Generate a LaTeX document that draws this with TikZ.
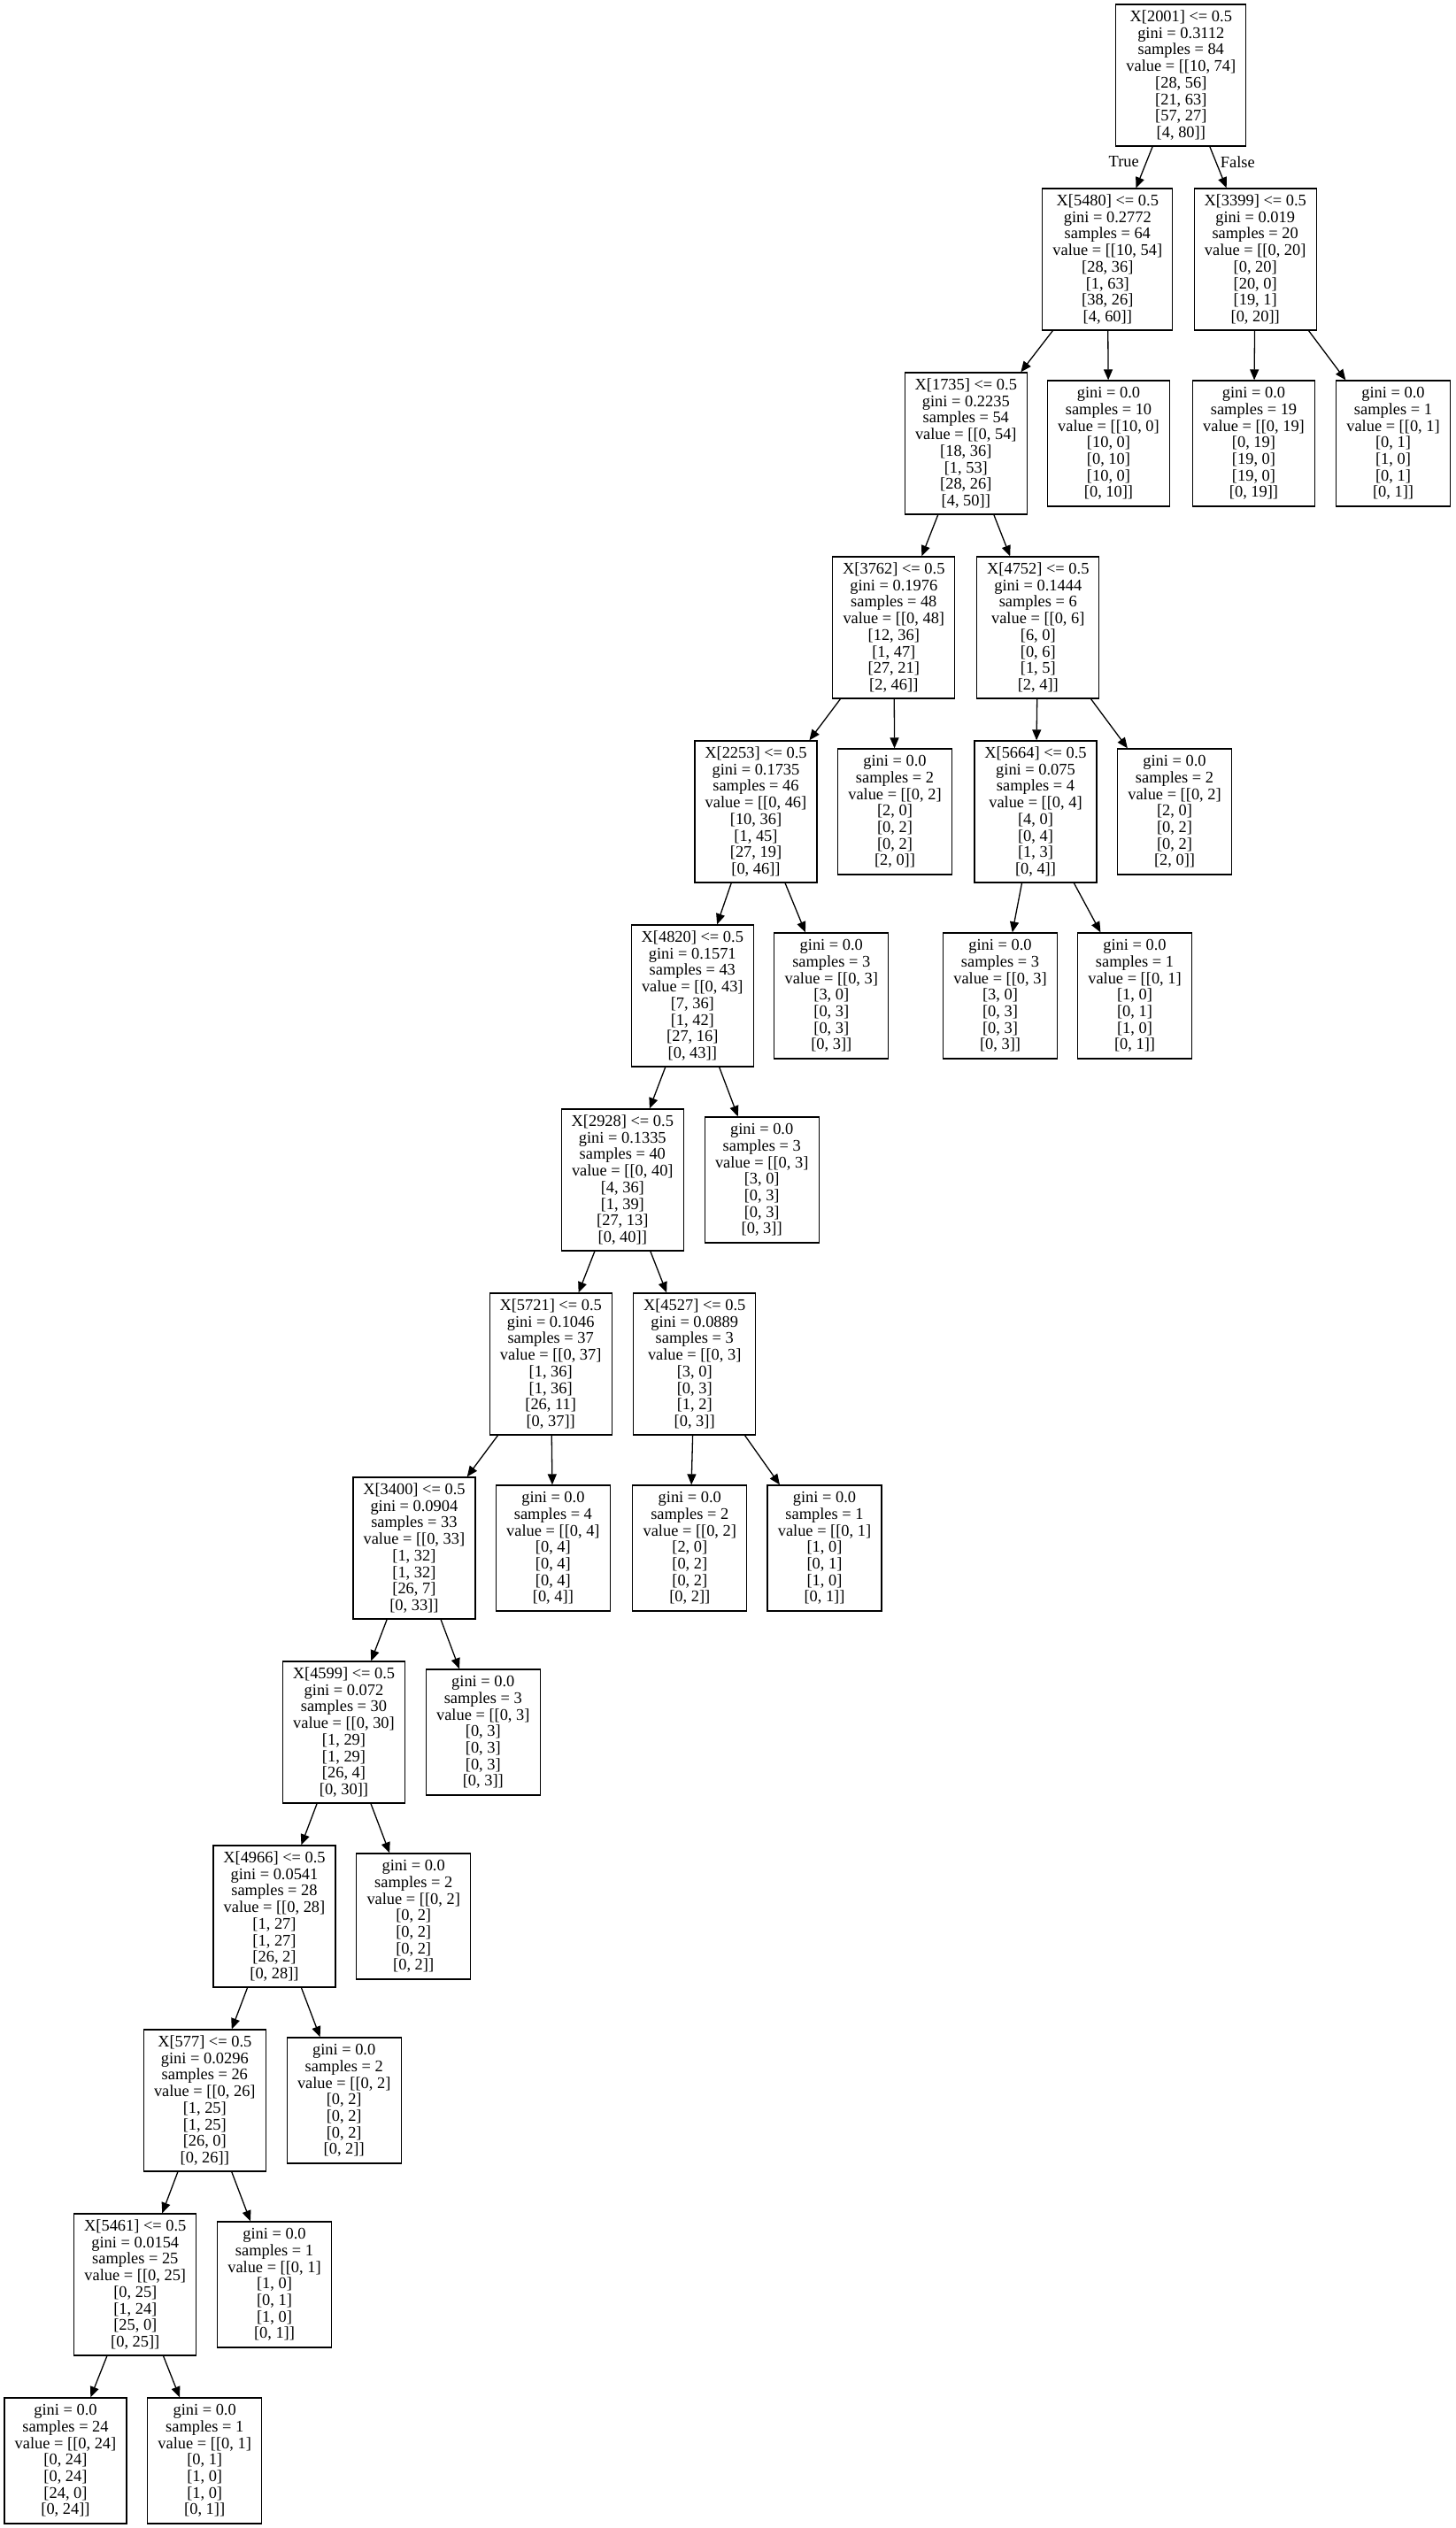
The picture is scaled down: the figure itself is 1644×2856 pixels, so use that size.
\documentclass[tikz,border=0pt]{standalone}
\usepackage{fontspec}
\setmainfont{Liberation Serif}
\usetikzlibrary{arrows.meta}
\begin{document}
\begin{tikzpicture}[x=1pt,y=-1pt,
  every node/.style={font=\fontsize{18.4}{18.7}\selectfont, inner sep=0pt},
  split/.style={draw, line width=1.3pt, rectangle, minimum height=160pt, align=center},
  leaf/.style={draw, line width=1.3pt, rectangle, minimum height=142pt, align=center},
  wa/.style={minimum width=147pt},
  wb/.style={minimum width=138pt},
  wc/.style={minimum width=129pt},
  edge/.style={line width=1.3pt, -{Triangle[length=12pt,width=10pt]}},
  lbl/.style={}]
\useasboundingbox (0,0) rectangle (1644,2856);
% rank 0
\node[split,wa] (n0) at (1334.3,85) {X[2001] <= 0.5\\gini = 0.3112\\samples = 84\\value = [[10, 74]\\{[28, 56]}\\{[21, 63]}\\{[57, 27]}\\{[4, 80]]}};
% rank 1
\node[split,wa] (n1) at (1251.3,293) {X[5480] <= 0.5\\gini = 0.2772\\samples = 64\\value = [[10, 54]\\{[28, 36]}\\{[1, 63]}\\{[38, 26]}\\{[4, 60]]}};
\node[split,wb] (n2) at (1418.2,293) {X[3399] <= 0.5\\gini = 0.019\\samples = 20\\value = [[0, 20]\\{[0, 20]}\\{[20, 0]}\\{[19, 1]}\\{[0, 20]]}};
% rank 2
\node[split,wb] (n3) at (1091.3,501) {X[1735] <= 0.5\\gini = 0.2235\\samples = 54\\value = [[0, 54]\\{[18, 36]}\\{[1, 53]}\\{[28, 26]}\\{[4, 50]]}};
\node[leaf,wb] (l4) at (1252.5,501) {gini = 0.0\\samples = 10\\value = [[10, 0]\\{[10, 0]}\\{[0, 10]}\\{[10, 0]}\\{[0, 10]]}};
\node[leaf,wb] (l5) at (1416.5,501) {gini = 0.0\\samples = 19\\value = [[0, 19]\\{[0, 19]}\\{[19, 0]}\\{[19, 0]}\\{[0, 19]]}};
\node[leaf,wc] (l6) at (1574,501) {gini = 0.0\\samples = 1\\value = [[0, 1]\\{[0, 1]}\\{[1, 0]}\\{[0, 1]}\\{[0, 1]]}};
% rank 3
\node[split,wb] (n7) at (1009.8,709) {X[3762] <= 0.5\\gini = 0.1976\\samples = 48\\value = [[0, 48]\\{[12, 36]}\\{[1, 47]}\\{[27, 21]}\\{[2, 46]]}};
\node[split,wb] (n8) at (1172.8,709) {X[4752] <= 0.5\\gini = 0.1444\\samples = 6\\value = [[0, 6]\\{[6, 0]}\\{[0, 6]}\\{[1, 5]}\\{[2, 4]]}};
% rank 4
\node[split,wb] (n9) at (854,917) {X[2253] <= 0.5\\gini = 0.1735\\samples = 46\\value = [[0, 46]\\{[10, 36]}\\{[1, 45]}\\{[27, 19]}\\{[0, 46]]}};
\node[leaf,wc] (l10) at (1011,917) {gini = 0.0\\samples = 2\\value = [[0, 2]\\{[2, 0]}\\{[0, 2]}\\{[0, 2]}\\{[2, 0]]}};
\node[split,wb] (n11) at (1170,917) {X[5664] <= 0.5\\gini = 0.075\\samples = 4\\value = [[0, 4]\\{[4, 0]}\\{[0, 4]}\\{[1, 3]}\\{[0, 4]]}};
\node[leaf,wc] (l12) at (1327,917) {gini = 0.0\\samples = 2\\value = [[0, 2]\\{[2, 0]}\\{[0, 2]}\\{[0, 2]}\\{[2, 0]]}};
% rank 5
\node[split,wb] (n13) at (782.3,1125) {X[4820] <= 0.5\\gini = 0.1571\\samples = 43\\value = [[0, 43]\\{[7, 36]}\\{[1, 42]}\\{[27, 16]}\\{[0, 43]]}};
\node[leaf,wc] (l14) at (939.3,1125) {gini = 0.0\\samples = 3\\value = [[0, 3]\\{[3, 0]}\\{[0, 3]}\\{[0, 3]}\\{[0, 3]]}};
\node[leaf,wc] (l15) at (1130,1125) {gini = 0.0\\samples = 3\\value = [[0, 3]\\{[3, 0]}\\{[0, 3]}\\{[0, 3]}\\{[0, 3]]}};
\node[leaf,wc] (l16) at (1282,1125) {gini = 0.0\\samples = 1\\value = [[0, 1]\\{[1, 0]}\\{[0, 1]}\\{[1, 0]}\\{[0, 1]]}};
% rank 6
\node[split,wb] (n17) at (703.3,1333) {X[2928] <= 0.5\\gini = 0.1335\\samples = 40\\value = [[0, 40]\\{[4, 36]}\\{[1, 39]}\\{[27, 13]}\\{[0, 40]]}};
\node[leaf,wc] (l18) at (860.7,1333) {gini = 0.0\\samples = 3\\value = [[0, 3]\\{[3, 0]}\\{[0, 3]}\\{[0, 3]}\\{[0, 3]]}};
% rank 7
\node[split,wb] (n19) at (622.2,1541) {X[5721] <= 0.5\\gini = 0.1046\\samples = 37\\value = [[0, 37]\\{[1, 36]}\\{[1, 36]}\\{[26, 11]}\\{[0, 37]]}};
\node[split,wb] (n20) at (784.7,1541) {X[4527] <= 0.5\\gini = 0.0889\\samples = 3\\value = [[0, 3]\\{[3, 0]}\\{[0, 3]}\\{[1, 2]}\\{[0, 3]]}};
% rank 8
\node[split,wb] (n21) at (467.9,1749) {X[3400] <= 0.5\\gini = 0.0904\\samples = 33\\value = [[0, 33]\\{[1, 32]}\\{[1, 32]}\\{[26, 7]}\\{[0, 33]]}};
\node[leaf,wc] (l22) at (624.9,1749) {gini = 0.0\\samples = 4\\value = [[0, 4]\\{[0, 4]}\\{[0, 4]}\\{[0, 4]}\\{[0, 4]]}};
\node[leaf,wc] (l23) at (779.3,1749) {gini = 0.0\\samples = 2\\value = [[0, 2]\\{[2, 0]}\\{[0, 2]}\\{[0, 2]}\\{[0, 2]]}};
\node[leaf,wc] (l24) at (931.5,1749) {gini = 0.0\\samples = 1\\value = [[0, 1]\\{[1, 0]}\\{[0, 1]}\\{[1, 0]}\\{[0, 1]]}};
% rank 9
\node[split,wb] (n25) at (388.5,1957) {X[4599] <= 0.5\\gini = 0.072\\samples = 30\\value = [[0, 30]\\{[1, 29]}\\{[1, 29]}\\{[26, 4]}\\{[0, 30]]}};
\node[leaf,wc] (l26) at (545.8,1957) {gini = 0.0\\samples = 3\\value = [[0, 3]\\{[0, 3]}\\{[0, 3]}\\{[0, 3]}\\{[0, 3]]}};
% rank 10
\node[split,wb] (n27) at (310,2165) {X[4966] <= 0.5\\gini = 0.0541\\samples = 28\\value = [[0, 28]\\{[1, 27]}\\{[1, 27]}\\{[26, 2]}\\{[0, 28]]}};
\node[leaf,wc] (l28) at (467.2,2165) {gini = 0.0\\samples = 2\\value = [[0, 2]\\{[0, 2]}\\{[0, 2]}\\{[0, 2]}\\{[0, 2]]}};
% rank 11
\node[split,wb] (n29) at (231.3,2373) {X[577] <= 0.5\\gini = 0.0296\\samples = 26\\value = [[0, 26]\\{[1, 25]}\\{[1, 25]}\\{[26, 0]}\\{[0, 26]]}};
\node[leaf,wc] (l30) at (388.7,2373) {gini = 0.0\\samples = 2\\value = [[0, 2]\\{[0, 2]}\\{[0, 2]}\\{[0, 2]}\\{[0, 2]]}};
% rank 12
\node[split,wb] (n31) at (152.8,2581) {X[5461] <= 0.5\\gini = 0.0154\\samples = 25\\value = [[0, 25]\\{[0, 25]}\\{[1, 24]}\\{[25, 0]}\\{[0, 25]]}};
\node[leaf,wc] (l32) at (310,2581) {gini = 0.0\\samples = 1\\value = [[0, 1]\\{[1, 0]}\\{[0, 1]}\\{[1, 0]}\\{[0, 1]]}};
% rank 13
\node[leaf,wb] (l33) at (74,2780) {gini = 0.0\\samples = 24\\value = [[0, 24]\\{[0, 24]}\\{[0, 24]}\\{[24, 0]}\\{[0, 24]]}};
\node[leaf,wc] (l34) at (231.2,2780) {gini = 0.0\\samples = 1\\value = [[0, 1]\\{[0, 1]}\\{[1, 0]}\\{[1, 0]}\\{[0, 1]]}};
% edge labels
\node[lbl] (tlabel) at (1269.7,183) {True};
\node[lbl] (flabel) at (1398.3,183) {False};
% edges
\draw[edge] (n0) -- (n1);
\draw[edge] (n0) -- (n2);
\draw[edge] (n1) -- (n3);
\draw[edge] (n1) -- (l4);
\draw[edge] (n2) -- (l5);
\draw[edge] (n2) -- (l6);
\draw[edge] (n3) -- (n7);
\draw[edge] (n3) -- (n8);
\draw[edge] (n7) -- (n9);
\draw[edge] (n7) -- (l10);
\draw[edge] (n8) -- (n11);
\draw[edge] (n8) -- (l12);
\draw[edge] (n9) -- (n13);
\draw[edge] (n9) -- (l14);
\draw[edge] (n11) -- (l15);
\draw[edge] (n11) -- (l16);
\draw[edge] (n13) -- (n17);
\draw[edge] (n13) -- (l18);
\draw[edge] (n17) -- (n19);
\draw[edge] (n17) -- (n20);
\draw[edge] (n19) -- (n21);
\draw[edge] (n19) -- (l22);
\draw[edge] (n20) -- (l23);
\draw[edge] (n20) -- (l24);
\draw[edge] (n21) -- (n25);
\draw[edge] (n21) -- (l26);
\draw[edge] (n25) -- (n27);
\draw[edge] (n25) -- (l28);
\draw[edge] (n27) -- (n29);
\draw[edge] (n27) -- (l30);
\draw[edge] (n29) -- (n31);
\draw[edge] (n29) -- (l32);
\draw[edge] (n31) -- (l33);
\draw[edge] (n31) -- (l34);
\end{tikzpicture}
\end{document}
